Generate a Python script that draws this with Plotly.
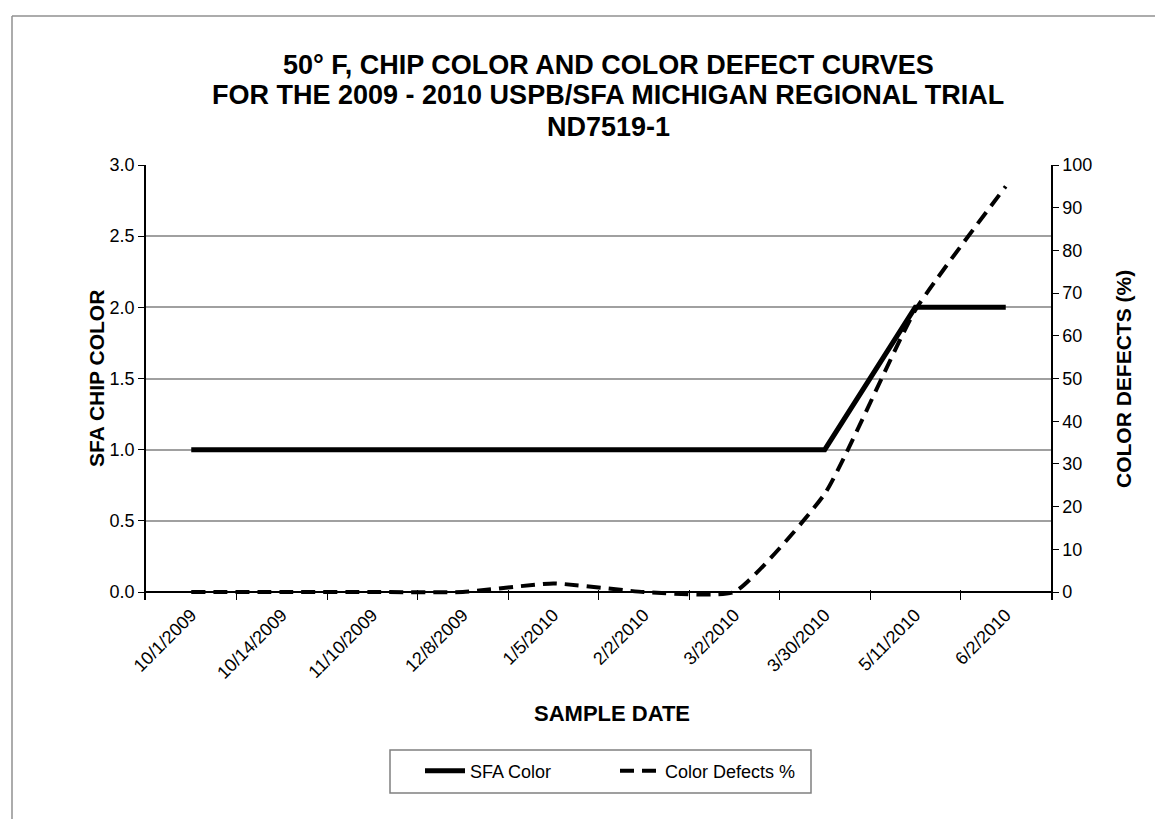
import plotly.graph_objects as go

dates = ["10/1/2009", "10/14/2009", "11/10/2009", "12/8/2009", "1/5/2010",
         "2/2/2010", "3/2/2010", "3/30/2010", "5/11/2010", "6/2/2010"]
sfa_color = [1.0, 1.0, 1.0, 1.0, 1.0, 1.0, 1.0, 1.0, 2.0, 2.0]
color_defects = [0, 0, 0, 0, 2, 0, 0, 23, 66, 95]

title_lines = ["50° F, CHIP COLOR AND COLOR DEFECT CURVES",
               "FOR THE 2009 - 2010 USPB/SFA MICHIGAN REGIONAL TRIAL",
               "ND7519-1"]

FONT = "Liberation Sans, Arial, sans-serif"
W, H = 1163, 819
L, R, T, Z = 138, 1043, 157, 584   # Z = pixel row of the zero line
PAD = 8                             # extra room below zero so the dashed curve is not clipped
B = Z + PAD
pw, ph = R - L, B - T
unit_left = (Z - T) / 3.0
unit_right = (Z - T) / 100.0

def px(x):
    return (x - L) / pw

def py(y):
    return (B - y) / ph

fig = go.Figure()
fig.add_trace(go.Scatter(
    x=dates, y=sfa_color, name="SFA Color", mode="lines",
    line=dict(color="black", width=5), yaxis="y"))
fig.add_trace(go.Scatter(
    x=dates, y=color_defects, name="Color Defects %", mode="lines",
    line=dict(color="black", width=4, dash="14px,8px", shape="spline", smoothing=0.45),
    yaxis="y2"))

annotations = []
for t, yc in zip(title_lines, [56.5, 87.5, 118.5]):
    annotations.append(dict(text=f"<b>{t}</b>", x=px(600), y=py(yc), xref="paper", yref="paper",
                            xanchor="center", yanchor="middle", showarrow=False,
                            font=dict(family=FONT, size=27, color="black")))
annotations.append(dict(text="<b>SAMPLE DATE</b>", x=px(604), y=py(705), xref="paper", yref="paper",
                        xanchor="center", yanchor="middle", showarrow=False,
                        font=dict(family=FONT, size=22, color="black")))
annotations.append(dict(text="<b>SFA CHIP COLOR</b>", x=px(88), y=py(371), xref="paper", yref="paper",
                        xanchor="center", yanchor="middle", showarrow=False, textangle=-90,
                        font=dict(family=FONT, size=21, color="black")))
annotations.append(dict(text="<b>COLOR DEFECTS (%)</b>", x=px(1115), y=py(371), xref="paper", yref="paper",
                        xanchor="center", yanchor="middle", showarrow=False, textangle=-90,
                        font=dict(family=FONT, size=21, color="black")))

fig.update_layout(
    width=W, height=H,
    margin=dict(l=L, r=W - R, t=T, b=H - B),
    paper_bgcolor="white", plot_bgcolor="white",
    font=dict(family=FONT, size=18, color="black"),
    showlegend=True,
    legend=dict(orientation="h", x=px(607), xanchor="center", y=py(763), yanchor="middle",
                borderwidth=0, bgcolor="rgba(0,0,0,0)",
                font=dict(family=FONT, size=18, color="black"),
                entrywidth=140, itemwidth=40),
    xaxis=dict(type="category", range=[-0.5, 9.5], showgrid=False,
               showline=False,
               ticks="inside", ticklen=PAD + 2, tickcolor="black", tickwidth=1, tickson="boundaries",
               tickangle=-45, tickfont=dict(size=18), mirror=False),
    yaxis=dict(range=[-PAD / unit_left, 3], tickvals=[0, 0.5, 1, 1.5, 2, 2.5, 3],
               tickformat=".1f", showgrid=True,
               gridcolor="#a0a0a0", gridwidth=1.5, showline=True, linecolor="black",
               linewidth=1.5, ticks="outside", ticklen=6, tickcolor="black",
               tickfont=dict(size=18), zeroline=True, zerolinecolor="black", zerolinewidth=1.5),
    yaxis2=dict(range=[-PAD / unit_right, 100], tickvals=list(range(0, 101, 10)),
                overlaying="y", side="right", showgrid=False,
                showline=True, linecolor="black", linewidth=1.5, ticks="outside",
                ticklen=6, tickcolor="black", tickfont=dict(size=18), zeroline=False),
    annotations=annotations,
    shapes=[
        dict(type="line", xref="paper", yref="paper", x0=px(4), x1=px(1170), y0=py(8), y1=py(8),
             line=dict(color="#909090", width=1.5)),
        dict(type="line", xref="paper", yref="paper", x0=px(4), x1=px(4), y0=py(8), y1=py(830),
             line=dict(color="#909090", width=1.5)),
        dict(type="rect", xref="paper", yref="paper", x0=px(382), x1=px(803), y0=py(785), y1=py(742),
             line=dict(color="#808080", width=1.5), fillcolor="rgba(0,0,0,0)", layer="below"),
    ],
)

fig.write_html("out.html")
